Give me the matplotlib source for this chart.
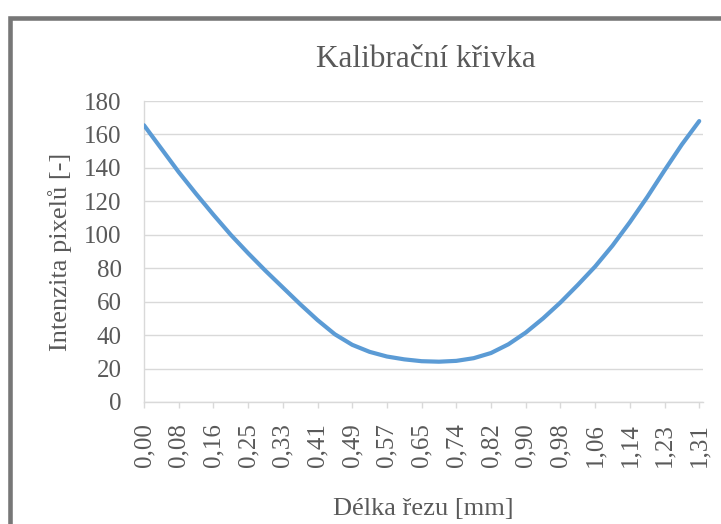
import numpy as np
import matplotlib.pyplot as plt
from matplotlib.patches import Rectangle

plt.rcParams['font.family'] = ['Liberation Serif', 'DejaVu Serif']

# popisky kategorii na ose x (mm)
popisky_x = ['0,00', '0,08', '0,16', '0,25', '0,33', '0,41', '0,49', '0,57', '0,65',
             '0,74', '0,82', '0,90', '0,98', '1,06', '1,14', '1,23', '1,31']

# intenzita pixelu, vzorky po pul kroku mezi popisky
intenzita = [165.5, 151.5, 137.5, 124.5, 112, 100, 89, 78.5, 68.5, 58.5, 49, 40.5,
             34.2, 30, 27.2, 25.5, 24.4, 24.1, 24.6, 26.2, 29.3, 34.5, 41.5, 50, 59.5,
             70, 81, 93.5, 107.5, 122.5, 138.5, 154, 168]

text_barva = '#595959'
mrizka = '#d9d9d9'

fig = plt.figure(figsize=(7.21, 5.24), dpi=100)
W, H = 721, 524

# ramecek grafu
fig.patches.append(Rectangle((9.5 / W, -0.1), 1.2, 1.1 - 17.5 / H,
                             transform=fig.transFigure, fill=False,
                             edgecolor='#777777', linewidth=3.3))

ax = fig.add_axes([144 / W, 1 - 402 / H, 558.7 / W, 301 / H])

poz = np.arange(len(intenzita)) * 0.5
ax.plot(poz, intenzita, color='#5b9bd5', linewidth=3.0,
        solid_capstyle='round', solid_joinstyle='round', zorder=3)

ax.set_xlim(0, 16.1)
ax.set_ylim(0, 180)
ax.set_yticks(np.arange(0, 181, 20))
ax.set_xticks(np.arange(len(popisky_x)))
ax.set_xticklabels(popisky_x, rotation=90)

ax.grid(axis='y', color=mrizka, linewidth=1.0)
ax.set_axisbelow(True)
for s in ['top', 'right']:
    ax.spines[s].set_visible(False)
for s in ['left', 'bottom']:
    ax.spines[s].set_color(mrizka)
    ax.spines[s].set_linewidth(1.0)

ax.tick_params(axis='y', length=0, pad=16, labelsize=18, labelcolor=text_barva)
ax.tick_params(axis='x', length=4.5, width=1.0, color=mrizka, pad=11,
               labelsize=18, labelcolor=text_barva)

ax.set_xlabel('Délka řezu [mm]', fontsize=19, color=text_barva)
ax.set_ylabel('Intenzita pixelů [-]', fontsize=19, color=text_barva)
ax.xaxis.set_label_coords(0.5, -0.32)
ax.yaxis.set_label_coords(-0.128, 0.5)

fig.text(426 / W, 1 - 67 / H, 'Kalibrační křivka', fontsize=22.5, color=text_barva,
         ha='center', va='baseline')

fig.savefig('out.png', dpi=100)
